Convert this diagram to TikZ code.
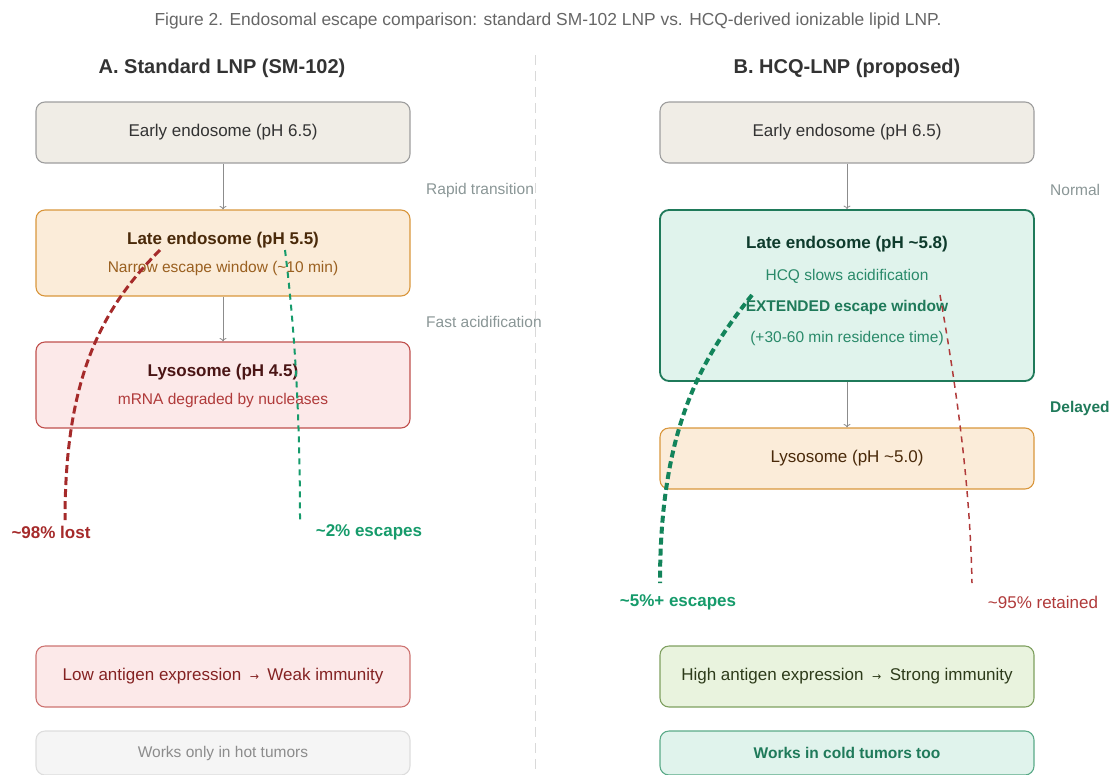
\documentclass[tikz,border=0pt]{standalone}
\usepackage{fontspec}
\setmainfont{Liberation Sans}
\newfontfamily\symfont{DejaVu Sans}
\usepackage{xcolor}
\usepackage{tikz}
\usetikzlibrary{arrows.meta}
\definecolor{capgray}{HTML}{666666}
\definecolor{headdark}{HTML}{333333}
\definecolor{notegray}{HTML}{8A9696}
\definecolor{earlyfill}{HTML}{F0EDE6}
\definecolor{earlyedge}{HTML}{9E9E9E}
\definecolor{latefill}{HTML}{FBECD9}
\definecolor{lateedge}{HTML}{D9963C}
\definecolor{latedark}{HTML}{4A2A0A}
\definecolor{latesub}{HTML}{9A6020}
\definecolor{lysofill}{HTML}{FCE9E9}
\definecolor{lysoedge}{HTML}{C0504D}
\definecolor{lysodark}{HTML}{4A1515}
\definecolor{lysosub}{HTML}{B03A3A}
\definecolor{lostred}{HTML}{A52A2A}
\definecolor{escgreen}{HTML}{169B6B}
\definecolor{hcqfill}{HTML}{E0F3EC}
\definecolor{hcqedge}{HTML}{1F7A5A}
\definecolor{hcqdark}{HTML}{0E3B2C}
\definecolor{hcqsub}{HTML}{2A8A6A}
\definecolor{highfill}{HTML}{E9F3DE}
\definecolor{highedge}{HTML}{7FA060}
\definecolor{highdark}{HTML}{2D3B1A}
\definecolor{hotfill}{HTML}{F5F5F5}
\definecolor{hotedge}{HTML}{DDDDDD}
\definecolor{coldedge}{HTML}{5AAA88}
\newcommand{\bigsz}{\fontsize{17}{20}\selectfont}
\newcommand{\smsz}{\fontsize{15.5}{18}\selectfont}
\newcommand{\headsz}{\fontsize{20}{24}\selectfont}
\newcommand{\capsz}{\fontsize{17.4}{20}\selectfont}
\newcommand{\toarrow}{\hspace{8.5pt}{\symfont\fontsize{11}{12}\selectfont →}\hspace{8.5pt}}
\tikzstyle{box}=[rectangle,rounded corners=9pt,minimum width=374pt,inner sep=0pt,line width=1.1pt]
\tikzstyle{early}=[box,draw=earlyedge,fill=earlyfill,minimum height=61pt,font=\bigsz,text=headdark]
\tikzstyle{late}=[box,draw=lateedge,fill=latefill]
\tikzstyle{lyso}=[box,draw=lysoedge,fill=lysofill]
\tikzstyle{hcq}=[box,draw=hcqedge,fill=hcqfill,line width=1.8pt]
\tikzstyle{caption}=[font=\capsz,text=capgray]
\tikzstyle{heading}=[font=\headsz\bfseries,text=headdark]
\tikzstyle{note}=[anchor=west,inner sep=0pt,font=\smsz,text=notegray]
\tikzstyle{flow}=[draw=gray!90,line width=0.8pt,-{To[length=3.5pt,width=7pt]}]
\tikzstyle{divider}=[draw=black!15,line width=1pt,dash pattern=on 10pt off 6pt]

\begin{document}
\begin{tikzpicture}[x=1pt,y=-1pt]
        \useasboundingbox (0,0) rectangle (1110,774);
        \node at (548,21) [caption] (fig) {Figure 2. Endosomal escape comparison: standard SM-102 LNP vs. HCQ-derived ionizable lipid LNP.};
        \node at (222,68) [heading] (heada) {A. Standard LNP (SM-102)};
        \node at (847,68) [heading] (headb) {B. HCQ-LNP (proposed)};
        \coordinate (divtop) at (535,55);
        \coordinate (divbot) at (535,774);
        \draw [divider] (divtop) -- (divbot);

        \node at (223,132.5) [early] (earlya) {Early endosome (pH 6.5)};
        \node at (223,253) [late,minimum height=86pt] (latea) {};
        \node at (223,240) [font=\bigsz\bfseries,text=latedark] (lateatitle) {Late endosome (pH 5.5)};
        \node at (223,268) [font=\smsz,text=latesub] (lateasub) {Narrow escape window (\textasciitilde10 min)};
        \node at (223,385) [lyso,minimum height=86pt] (lysoa) {};
        \node at (223,372) [font=\bigsz\bfseries,text=lysodark] (lysoatitle) {Lysosome (pH 4.5)};
        \node at (223,400) [font=\smsz,text=lysosub] (lysoasub) {mRNA degraded by nucleases};
        \node at (426,190) [note] (rapid) {Rapid transition};
        \node at (426,322) [note] (fast) {Fast acidification};
        \draw [flow] (earlya) -- (latea);
        \draw [flow] (latea) -- (lysoa);

        \node at (847,132.5) [early] (earlyb) {Early endosome (pH 6.5)};
        \node at (847,295.5) [hcq,minimum height=171pt] (lateb) {};
        \node at (847,244) [font=\bigsz\bfseries,text=hcqdark] (latebtitle) {Late endosome (pH \textasciitilde5.8)};
        \node at (847,276) [font=\smsz,text=hcqsub] (latebsub) {HCQ slows acidification};
        \node at (847,307) [font=\smsz\bfseries,text=hcqedge] (latebext) {EXTENDED escape window};
        \node at (847,338) [font=\smsz,text=hcqsub] (latebtime) {(+30-60 min residence time)};
        \node at (847,458.5) [late,minimum height=61pt,font=\bigsz,text=latedark] (lysob) {Lysosome (pH \textasciitilde5.0)};
        \node at (1050,190) [note] (normal) {Normal};
        \node at (1050,408) [note,font=\smsz\bfseries,text=hcqedge] (delayed) {Delayed};
        \draw [flow] (earlyb) -- (lateb);
        \draw [flow] (lateb) -- (lysob);

        \coordinate (lostfrom) at (160,250);
        \coordinate (lostto) at (65,520);
        \coordinate (escafrom) at (285,250);
        \coordinate (escato) at (300,520);
        \coordinate (escbfrom) at (752,295);
        \coordinate (escbto) at (660,583);
        \coordinate (keptfrom) at (940,295);
        \coordinate (keptto) at (972,583);
        \draw [lostred,line width=3pt,dash pattern=on 8pt off 4pt] (lostfrom) .. controls (100,310) and (65,380) .. (lostto);
        \draw [escgreen,line width=2pt,dash pattern=on 6pt off 5pt] (escafrom) .. controls (295,330) and (300,420) .. (escato);
        \draw [escgreen!85!black,line width=4pt,dash pattern=on 7pt off 4pt] (escbfrom) .. controls (700,360) and (660,430) .. (escbto);
        \draw [lysosub,line width=1.5pt,dash pattern=on 6pt off 5pt] (keptfrom) .. controls (955,380) and (970,480) .. (keptto);

        \node at (51,532) [font=\bigsz\bfseries,text=lostred] (lost) {\textasciitilde98\% lost};
        \node at (369,532) [font=\bigsz\bfseries,text=escgreen] (esca) {\textasciitilde2\% escapes};
        \node at (678,602) [font=\bigsz\bfseries,text=escgreen] (escb) {\textasciitilde5\%+ escapes};
        \node at (1043,602) [font=\bigsz,text=lysosub] (kept) {\textasciitilde95\% retained};

        \node at (223,676.5) [box,draw=lysoedge!80,fill=lysofill,minimum height=61pt,font=\bigsz,text=lostred!80!black] (weak) {Low antigen expression\toarrow{}Weak immunity};
        \node at (223,753) [box,draw=hotedge,fill=hotfill,minimum height=44pt,font=\smsz,text=black!45] (hot) {Works only in hot tumors};
        \node at (847,676.5) [box,draw=highedge,fill=highfill,minimum height=61pt,font=\bigsz,text=highdark] (strong) {High antigen expression\toarrow{}Strong immunity};
        \node at (847,753) [box,draw=coldedge,fill=hcqfill,minimum height=44pt,font=\smsz\bfseries,text=hcqedge] (cold) {Works in cold tumors too};
      \end{tikzpicture}
\end{document}
